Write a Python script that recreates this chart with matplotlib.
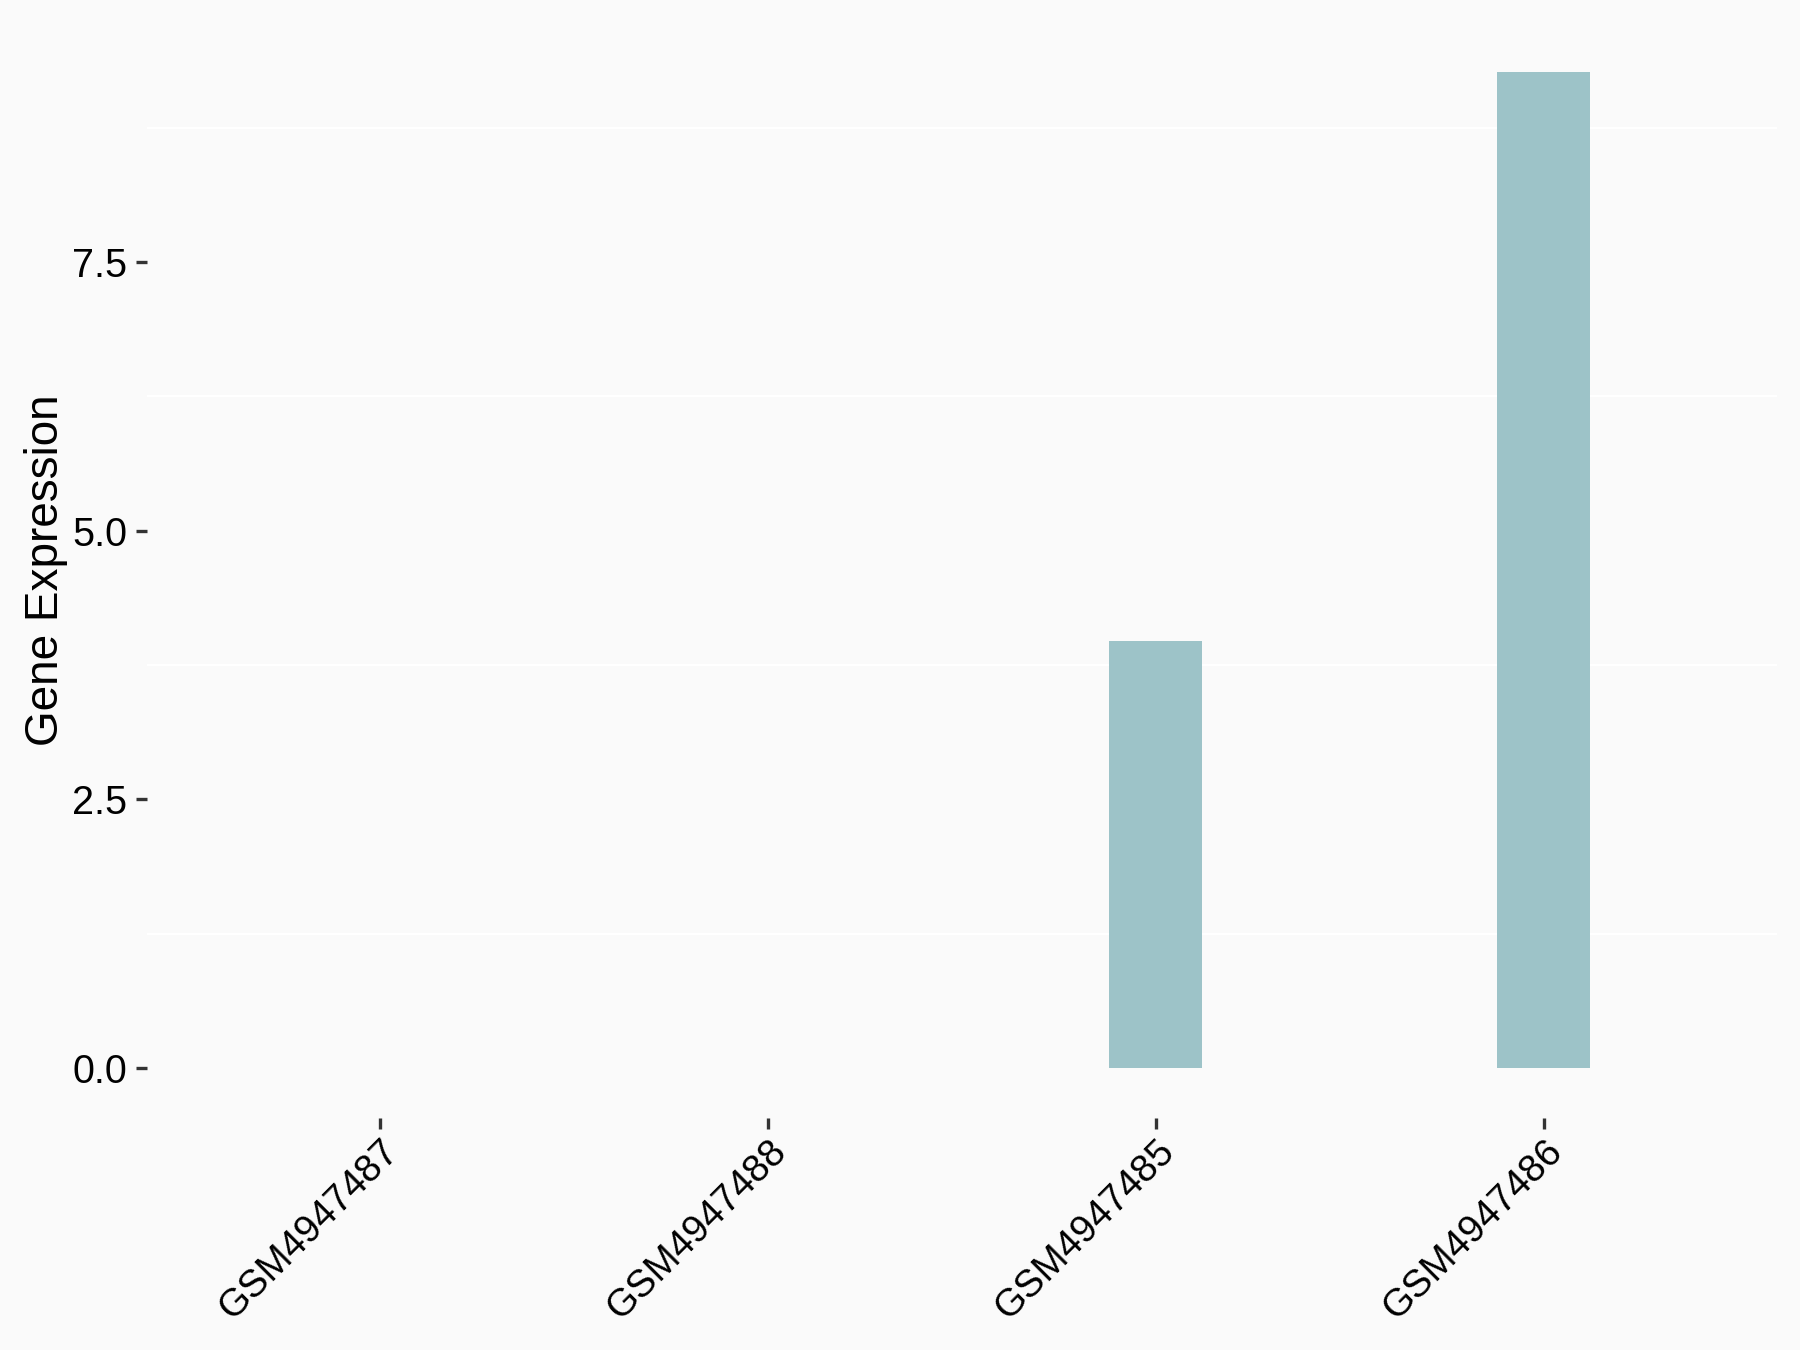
import matplotlib
matplotlib.use("Agg")
import matplotlib.pyplot as plt

# --- Datos ---
samples = ["GSM4947487", "GSM4947488", "GSM4947485", "GSM4947486"]
expression = [0.0, 0.0, 3.97, 9.27]

bg = "#FAFAFA"
bar_color = "#9DC3C8"

plt.rcParams["font.family"] = ["Liberation Sans", "DejaVu Sans"]

fig = plt.figure(figsize=(12, 9), dpi=150, facecolor=bg)
ax = fig.add_axes([0.0817, 0.172, 0.9053, 0.8118], facecolor=bg)

x = list(range(1, len(samples) + 1))
ax.bar(x, expression, width=0.24, color=bar_color, zorder=2)

# ejes estilo ggplot (expansion discreta 0.6, continua 5%)
ax.set_xlim(0.4, len(samples) + 0.6)
ymax = max(expression)
ax.set_ylim(-0.05 * ymax, ymax * 1.05)

ax.set_yticks([0, 2.5, 5.0, 7.5])
ax.set_yticklabels(["0.0", "2.5", "5.0", "7.5"], fontsize=19)
ax.set_yticks([1.25, 3.75, 6.25, 8.75], minor=True)
ax.grid(False)
ax.grid(True, which="minor", axis="y", color="white", linewidth=1.0, zorder=0)

ax.set_xticks(x)
ax.set_xticklabels(samples, fontsize=18.5, rotation=45, ha="right", va="top",
                   rotation_mode="anchor")

ax.tick_params(axis="both", which="major", length=5.5, width=1.6, color="#333333",
               labelcolor="black", pad=4)
ax.tick_params(axis="y", which="minor", length=0)
ax.tick_params(axis="x", pad=2)

ax.set_ylabel("Gene Expression", fontsize=22, labelpad=2)
for s in ax.spines.values():
    s.set_visible(False)

fig.savefig("out.png", dpi=150, facecolor=bg)
